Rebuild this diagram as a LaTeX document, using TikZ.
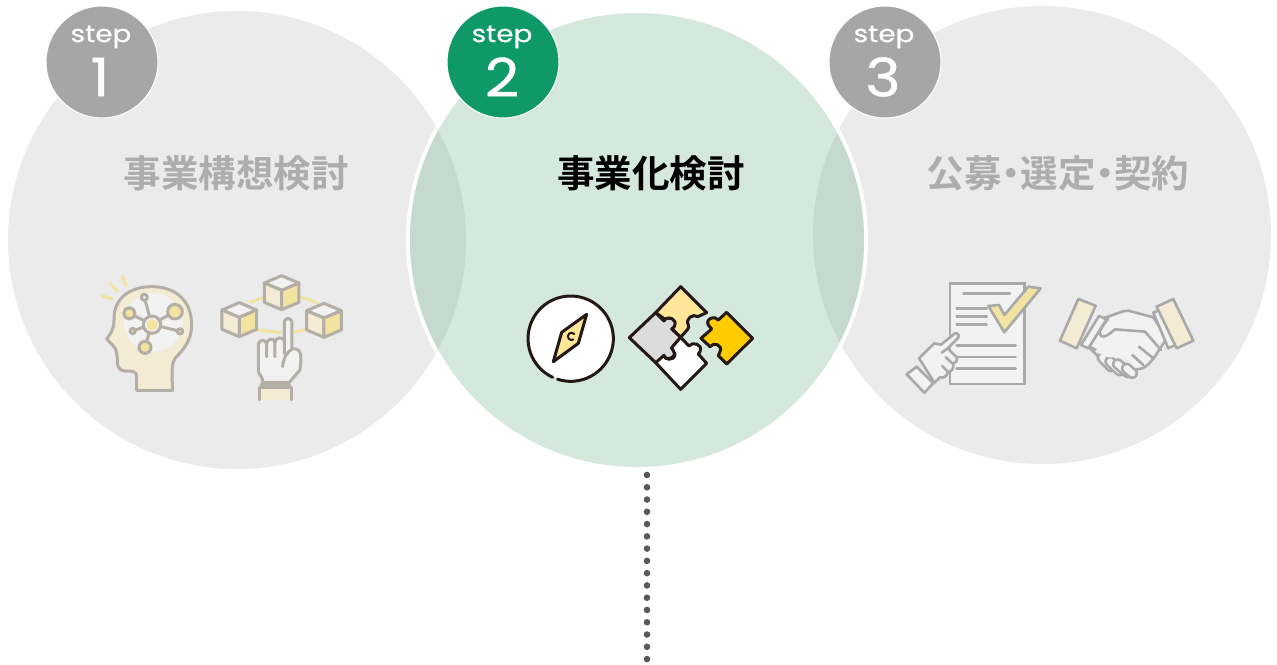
\documentclass[tikz,border=0pt]{standalone}
\usepackage{fontspec}
\newfontfamily\cjkb{Noto Sans CJK JP Bold}
\newfontfamily\pop[FakeBold=0.4]{Poppins}
\newfontfamily\popnum[FakeBold=0.8]{Poppins}
\definecolor{bggray}{HTML}{EBEBEB}
\definecolor{bggreen}{HTML}{D5E8DE}
\definecolor{overlap}{HTML}{C5D9CF}
\definecolor{badgegray}{HTML}{A6A6A6}
\definecolor{badgegreen}{HTML}{0F9968}
\definecolor{titlegray}{HTML}{ADADAD}
\definecolor{lnbrown}{HTML}{B3AEA6}
\definecolor{lngray}{HTML}{A9A9A9}
\definecolor{cream}{HTML}{F3EBD3}
\definecolor{softyel}{HTML}{F2E3A0}
\definecolor{pale}{HTML}{F2F2F2}
\definecolor{ink}{HTML}{231815}
\definecolor{pzy}{HTML}{FFE699}
\definecolor{pzg}{HTML}{DCDCDC}
\definecolor{pzo}{HTML}{FFCC00}
\definecolor{dotc}{HTML}{595959}
\newcommand{\tightdot}{\hspace{-0.25em}・\hspace{-0.25em}}
\tikzset{
  badge/.style={circle,draw=white,line width=1pt,minimum size=112pt,inner sep=0pt},
  steptext/.style={text=white,font=\pop\fontsize{24}{24}\selectfont,inner sep=0pt,xscale=1.16},
  numtext/.style={text=white,font=\popnum\fontsize{53}{53}\selectfont,inner sep=0pt,xscale=1.12},
  titletext/.style={font=\cjkb\fontsize{37.5}{37.5}\selectfont,inner sep=0pt},
  br/.style={draw=lnbrown,line width=3pt,line join=round,line cap=round},
  gr/.style={draw=lngray,line width=2.6pt,line join=round,line cap=round},
  ik/.style={draw=ink,line width=3pt,line join=round,line cap=round},
  zoomed/.style={shift={#1},x=0.3333pt,y=-0.3333pt}
}
\newcommand{\fingerpath}[2]{%
  \draw[lngray,line width=11.5pt,line cap=round] #1 -- #2;
  \draw[pale,line width=6.3pt,line cap=round] #1 -- #2;}
\begin{document}
\begin{tikzpicture}[x=1pt,y=-1pt]
\useasboundingbox (0,0) rectangle (1277,664);
\fill[white] (0,0) rectangle (1277,664);
% big circles
\fill[bggray] (237,240) circle[radius=229];
\fill[bggray] (1042,235) circle[radius=229];
\fill[white] (637,240) circle[radius=231];
\fill[bggreen] (637,240) circle[radius=227];
\begin{scope}
  \clip (637,240) circle[radius=227];
  \fill[overlap] (237,240) circle[radius=229];
  \fill[overlap] (1042,235) circle[radius=229];
\end{scope}
% badges
\node[badge,fill=badgegray] (b1) at (102,62) {};
\node[badge,fill=badgegreen] (b2) at (503,62) {};
\node[badge,fill=badgegray] (b3) at (885,62) {};
\node[steptext] (s1) at (101,37) {step};
\node[steptext] (s2) at (502,37) {step};
\node[steptext] (s3) at (884,37) {step};
\node[numtext] (n1) at (100,77) {1};
\node[numtext] (n2) at (502,77) {2};
\node[numtext] (n3) at (883,77) {3};
% titles
\node[titletext,text=titlegray] (t1) at (236,173) {事業構想検討};
\node[titletext,text=black] (t2) at (651,173) {事業化検討};
\node[titletext,text=titlegray] (t3) at (1058,173) {公募\tightdot 選定\tightdot 契約};
% dotted line
\coordinate (d0) at (647,475);
\coordinate (d1) at (647,664);
\draw[dotc,line width=6.6pt,line cap=round,dash pattern=on 0pt off 12.27pt] (d0) -- (d1);
% head + cubes
\begin{scope}[zoomed={(90,265)}]
  \draw[softyel,line width=3pt,line cap=round] (38,93)--(67,102) (60,55)--(82,78) (97,33)--(107,62);
  \draw[br,fill=cream] (140,376) -- (140,335) .. controls (140,318) and (125,318) .. (105,318)
     .. controls (85,318) and (80,300) .. (82,280) .. controls (80,265) and (78,250) .. (72,245)
     -- (50,222) .. controls (62,205) and (72,195) .. (72,165)
     .. controls (70,100) and (120,65) .. (185,65)
     .. controls (260,65) and (305,110) .. (305,180)
     .. controls (305,225) and (280,255) .. (255,280)
     .. controls (245,295) and (245,320) .. (248,376) -- cycle;
  \fill[pale] (190,172) ellipse[x radius=88,y radius=88];
  \draw[br] (185,178) -- (163,97) (185,178) -- (118,145) (185,178) -- (255,140)
     (185,178) -- (128,198) (185,178) -- (270,199) (185,178) -- (165,247);
  \draw[br,fill=pale] (163,97) circle[radius=9];
  \draw[br,fill=softyel] (118,145) circle[radius=17];
  \draw[br,fill=softyel] (255,140) circle[radius=22];
  \draw[br,fill=softyel] (128,198) circle[radius=8];
  \draw[br,fill=softyel] (270,199) circle[radius=8];
  \draw[br,fill=softyel] (165,247) circle[radius=18];
  \draw[br,fill=pale] (186,179) circle[radius=26];
  \fill[softyel] (186,179) circle[radius=17];
  % ellipse ring
  \draw[softyel,line width=3pt] (520,98) -- (480,112) (632,96) -- (685,115) (500,195) -- (575,203) (610,203) -- (650,193);
  % cubes
  \foreach \cx/\cy in {575/32, 448/113, 702/115}{
    \begin{scope}[shift={(\cx,\cy)}]
      \draw[br,fill=pale] (0,0) -- (52,22) -- (0,44) -- (-52,22) -- cycle;
      \draw[br,fill=cream] (-52,22) -- (0,44) -- (0,102) -- (-52,80) -- cycle;
      \draw[br,fill=softyel] (52,22) -- (0,44) -- (0,102) -- (52,80) -- cycle;
    \end{scope}
  }
  % hand
  \draw[br,fill=pale] (583,175) .. controls (583,155) and (606,155) .. (606,175) -- (606,252) -- (618,252)
     .. controls (632,255) and (634,270) .. (632,295) -- (630,315) -- (598,352) -- (518,352) .. controls (520,335) and (505,330) .. (505,315) -- (505,238)
     .. controls (508,222) and (528,222) .. (530,238) .. controls (532,218) and (552,218) .. (555,232)
     .. controls (557,215) and (578,215) .. (583,228) -- cycle;
  \draw[br] (530,238) -- (530,275) (555,232) -- (555,275) (583,228) -- (583,265) (606,252) .. controls (590,262) and (580,280) .. (578,305);
  \draw[br] (513,358) -- (600,358);
  \fill[cream] (510,367) rectangle (606,405);
  \draw[br] (510,405) -- (510,367) -- (606,367) -- (606,405);
\end{scope}
% compass and puzzle
\begin{scope}[zoomed={(515,280)}]
  \fill[white] (167,172) circle[radius=128];
  \draw[ik] (113,292) arc[start angle=245,end angle=-108,x radius=128,y radius=-128];
  \draw[ik,fill=pzy] (215,103) -- (140,157) -- (115,245) -- (190,190) -- cycle;
  \draw[ik,line width=2pt] (178,162) arc[start angle=-40,end angle=-300,radius=11];
  \draw[ik,fill=pzy] (497,20) -- (575,98) -- (548,110)
     .. controls (535,100) and (510,115) .. (520,135) .. controls (525,145) and (515,150) .. (497,172)
     -- (470,145) .. controls (485,130) and (475,105) .. (450,118) -- (422,98) -- cycle;
  \draw[ik,fill=pzg] (343,173) -- (422,98) -- (447,123)
     .. controls (455,105) and (490,115) .. (478,140) -- (470,147) -- (497,172) -- (470,205)
     .. controls (490,215) and (475,245) .. (448,232) -- (422,248) -- cycle;
  \draw[ik,fill=white] (497,328) -- (422,248) -- (447,226) .. controls (445,240) and (480,245) .. (480,222)
     -- (470,203) -- (497,172) -- (522,198) .. controls (530,185) and (565,190) .. (555,215) -- (550,222) -- (575,250) -- cycle;
  \draw[ik,fill=pzo] (713,175) -- (635,97) -- (610,120)
     .. controls (600,105) and (570,115) .. (580,135) -- (590,147) -- (558,175) -- (585,200)
     .. controls (595,185) and (625,195) .. (615,215) -- (610,227) -- (635,252) -- cycle;
\end{scope}
% document + hand + handshake
\begin{scope}[zoomed={(895,270)}]
  \draw[gr,fill=pale,line cap=butt,line join=miter] (165,40) rectangle (388,342);
  \draw[gr] (205,70)--(345,70) (185,116)--(275,116) (185,140)--(275,140) (185,163)--(275,163)
     (185,226)--(362,226) (185,261)--(362,261) (185,296)--(362,296);
  \draw[gr,fill=softyel] (280,108) -- (312,105) -- (328,135) -- (400,50) -- (437,55) -- (328,187) -- cycle;
  \draw[gr,fill=pale] (85,285) -- (72,265) -- (118,220) -- (138,224) -- (180,190) .. controls (190,188) and (195,198) .. (188,205)
     -- (158,235) -- (185,262) .. controls (188,272) and (182,280) .. (175,280) .. controls (178,295) and (170,305) .. (160,305)
     .. controls (155,320) and (145,325) .. (135,322) -- (118,338) -- cycle;
  \draw[gr] (158,235) -- (140,248) (172,280) -- (152,262) (158,305) -- (142,288);
  \draw[gr,fill=pale] (35,313) -- (65,290) -- (115,340) -- (88,368) -- cycle;
  % handshake
  \fingerpath{(622,263)}{(648,290)}
  \fingerpath{(645,275)}{(674,302)}
  \fingerpath{(668,282)}{(698,308)}
  \draw[gr,fill=pale] (622,145) .. controls (660,135) and (680,122) .. (700,122) -- (775,142) -- (815,205) -- (778,262)
     .. controls (765,280) and (745,300) .. (725,298) -- (690,255) -- (620,250) -- (575,225) -- cycle;
  \fill[pale] (640,262) -- (690,262) -- (720,300) -- (735,280) -- (700,230) -- (620,220) -- (600,245) -- cycle;
  \draw[gr] (640,145) .. controls (625,165) and (605,190) .. (618,198) .. controls (630,205) and (645,190) .. (660,178)
     -- (750,185) -- (798,240)
     (732,230) -- (775,265) (712,255) -- (745,285);
  \draw[gr] (575,225) -- (608,258);
  \fingerpath{(695,295)}{(712,310)}
  \draw[gr,fill=pale] (612,138) -- (635,148) -- (580,235) -- (558,225) -- cycle;
  \draw[gr,fill=pale] (775,128) -- (795,120) -- (840,225) -- (820,235) -- cycle;
  \draw[gr,fill=cream] (550,87) -- (602,107) -- (545,235) -- (495,212) -- cycle;
  \draw[gr,fill=cream] (835,87) -- (785,110) -- (845,235) -- (895,212) -- cycle;
\end{scope}
\end{tikzpicture}
\end{document}
